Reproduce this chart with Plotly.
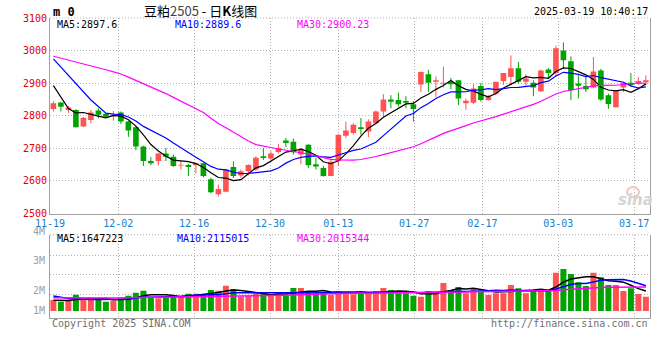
import plotly.graph_objects as go
import pandas as pd

# ---------------- data ----------------
dates = ["11-19","11-20","11-21","11-22","11-25","11-26","11-27","11-28","11-29",
         "12-02","12-03","12-04","12-05","12-06","12-09","12-10","12-11","12-12","12-13",
         "12-16","12-17","12-18","12-19","12-20","12-23","12-24","12-25","12-26","12-27",
         "12-30","12-31","01-02","01-03","01-06","01-07","01-08","01-09","01-10",
         "01-13","01-14","01-15","01-16","01-17","01-20","01-21","01-22","01-23","01-24",
         "01-27","02-05","02-06","02-07","02-10","02-11","02-12","02-13","02-14",
         "02-17","02-18","02-19","02-20","02-21","02-24","02-25","02-26","02-27","02-28",
         "03-03","03-04","03-05","03-06","03-07","03-10","03-11","03-12","03-13","03-14",
         "03-17","03-18","03-19"]

opens = [2821,2841,2818,2818,2767,2787,2816,2806,2798,2810,
         2782,2765,2706,2661,2661,2684,2674,2647,2649,2649,
         2654,2605,2559,2567,2643,2617,2630,2635,2676,2669,
         2689,2724,2720,2681,2711,2651,2640,2615,2661,2739,
         2747,2765,2752,2777,2813,2850,2848,2845,2835,2896,
         2927,2904,2898,2904,2909,2838,2840,2891,2848,2868,
         2907,2919,2946,2904,2901,2875,2942,2931,3000,2967,
         2899,2891,2887,2939,2863,2826,2887,2901,2899,2903]
highs = [2845,2843,2830,2820,2796,2818,2823,2808,2815,2813,
         2784,2767,2708,2673,2686,2701,2681,2661,2652,2656,
         2656,2610,2589,2637,2660,2635,2651,2676,2701,2691,
         2713,2732,2730,2701,2713,2671,2646,2664,2744,2782,
         2777,2793,2789,2816,2866,2863,2871,2860,2845,2936,
         2941,2921,2951,2916,2909,2853,2897,2901,2863,2904,
         2931,2985,2965,2927,2909,2941,2947,3015,3025,2982,
         2924,2919,2980,2944,2868,2879,2904,2931,2919,2924]
lows = [2813,2813,2808,2764,2765,2777,2792,2795,2785,2775,
        2735,2694,2646,2648,2648,2661,2643,2635,2615,2623,
        2611,2562,2552,2565,2609,2610,2617,2630,2664,2666,
        2684,2704,2681,2651,2640,2635,2613,2615,2646,2732,
        2742,2742,2734,2777,2797,2823,2828,2823,2782,2873,
        2873,2858,2887,2881,2833,2818,2836,2843,2846,2863,
        2894,2894,2899,2889,2860,2873,2914,2921,2944,2848,
        2853,2873,2884,2846,2821,2825,2873,2889,2894,2894]
closes = [2838,2828,2825,2765,2794,2810,2803,2797,2801,2782,
          2755,2706,2661,2654,2684,2674,2646,2649,2643,2654,
          2615,2565,2575,2635,2615,2630,2649,2671,2670,2684,
          2701,2716,2688,2698,2648,2644,2615,2659,2742,2755,
          2772,2759,2782,2813,2850,2843,2835,2840,2821,2934,
          2901,2909,2900,2897,2853,2846,2884,2848,2858,2904,
          2931,2946,2904,2914,2887,2939,2931,3007,2970,2878,
          2892,2881,2936,2850,2836,2878,2901,2894,2907,2909]
volumes = [920000,780000,920000,1360000,1000000,1110000,970000,780000,860000,1030000,
           1280000,1530000,1690000,1190000,1060000,1250000,1250000,1140000,1440000,1440000,
           1360000,1750000,1690000,2110000,1830000,1190000,1250000,1470000,1580000,1280000,
           1500000,1250000,1920000,1920000,1670000,1470000,1560000,1330000,1670000,1610000,
           1390000,1470000,1500000,1670000,1920000,1750000,1470000,1470000,1280000,1190000,
           1670000,1580000,2330000,1750000,2000000,1470000,1920000,1690000,1330000,1470000,
           1470000,2170000,1890000,1470000,1750000,1830000,1750000,3190000,3500000,3080000,
           2390000,2080000,3190000,2810000,2170000,2170000,1670000,1890000,1420000,1190000]

# closes / volumes of the 29 sessions before the visible window (estimated from the MA lines)
prior_closes = [2996,2993,2936,2963,2978,3001,2996,2998,2981,3044,
                2996,2951,2946,2974,3024,2996,2998,2994,3000,2966,
                3080,3077,3020,3047,3062,3005,3000,2832,2787]
prior_volumes = [1100000,950000,1200000,1000000,900000,1150000,1050000,980000,1100000,1000000,
                 920000,1080000,1120000,960000,1050000,1000000,1100000,950000,1070000,1040000,
                 1900000,1800000,1700000,1400000,1250000,950000,850000,900000,830000]

tick_labels = ["11-19","12-02","12-16","12-30","01-13","01-27","02-17","03-03","03-17"]
price_ticks = [2500, 2600, 2700, 2800, 2900, 3000, 3100]
vol_tick_labels = ["4M", "3M", "2M", "1M"]
price_ma_text = ["MA5:2897.6", "MA10:2889.6", "MA30:2900.23"]
vol_ma_text = ["MA5:1647223", "MA10:2115015", "MA30:2015344"]
title_text = "豆粕<span style='color:#444'>2505</span> - 日<b>K</b>线图"
symbol_text = "m 0"
time_text = "2025-03-19 10:40:17"

# ---------------- styles ----------------
W, H = 660, 360
RED = "#ff5353"
GREEN = "#00a400"
MA_COLORS = ["#000000", "#0000ff", "#ff00ff"]
GRID = "#b0b0b0"
BORDER = "#a0a0a0"
MONO = "DejaVu Sans Mono"
X0, X1 = 50, 650
P_TOP, P_BOT = 18, 213.5
V_TOP, V_BOT = 234.7, 318.3
GRID_STRETCH, GRID_SHIFT = 1.0115, -0.453

def px_x(p):
    return p / W

def px_y(p):
    return 1 - p / H

n = len(dates)
xs = list(range(n))
np_ = len(prior_closes)
cser = pd.Series(prior_closes + closes, dtype=float)
vser = pd.Series(prior_volumes + volumes, dtype=float)
price_ma = [cser.rolling(w).mean().iloc[np_:].tolist() for w in (5, 10, 30)]
vol_ma = [vser.rolling(w).mean().iloc[len(prior_volumes):].tolist() for w in (5, 10, 30)]

up = [c >= o for o, c in zip(opens, closes)]

fig = go.Figure()

# wicks
for flag, col in ((True, RED), (False, GREEN)):
    wx, wy = [], []
    for i in xs:
        if up[i] == flag:
            wx += [i, i, None]
            wy += [lows[i], highs[i], None]
    fig.add_trace(go.Scatter(x=wx, y=wy, mode="lines", line=dict(color=col, width=1),
                             xaxis="x", yaxis="y", hoverinfo="skip"))

# bodies
for flag, col in ((True, RED), (False, GREEN)):
    bx = [i for i in xs if up[i] == flag]
    base = [min(opens[i], closes[i]) for i in bx]
    hgt = [max(abs(closes[i] - opens[i]), 3) for i in bx]
    fig.add_trace(go.Bar(x=bx, y=hgt, base=base, width=0.75, marker=dict(color=col, line=dict(width=0)),
                         xaxis="x", yaxis="y"))

for ma, col in zip(price_ma, MA_COLORS):
    fig.add_trace(go.Scatter(x=xs, y=ma, mode="lines", line=dict(color=col, width=1.2),
                             xaxis="x", yaxis="y"))

# volume
for flag, col in ((True, RED), (False, GREEN)):
    bx = [i for i in xs if up[i] == flag]
    fig.add_trace(go.Bar(x=bx, y=[volumes[i] for i in bx], width=0.8,
                         marker=dict(color=col, line=dict(width=0)), xaxis="x2", yaxis="y2"))
for ma, col in zip(vol_ma, MA_COLORS):
    fig.add_trace(go.Scatter(x=xs, y=ma, mode="lines", line=dict(color=col, width=1.5),
                             xaxis="x2", yaxis="y2"))

tick_idx = [dates.index(t) for t in tick_labels]
tickvals = [k * GRID_STRETCH + GRID_SHIFT for k in tick_idx]
xrange = [-0.453, (X1 - 53.4) / 7.5]

px_per_m = 12.0
v_base = 311.0
def vol_at(py):
    return (v_base - py) / px_per_m * 1e6

common_x = dict(range=xrange, tickvals=tickvals, showgrid=True, gridcolor=GRID, griddash="1px,2px",
                gridwidth=1, showline=True, linecolor=BORDER, linewidth=1, zeroline=False, ticks="",
                domain=[px_x(X0), px_x(X1)], automargin=False)
fig.update_layout(
    width=W, height=H, margin=dict(l=0, r=0, t=0, b=0, pad=0), autosize=False,
    paper_bgcolor="white", plot_bgcolor="white", showlegend=False, barmode="overlay",
    hovermode=False,
    xaxis=dict(**common_x, anchor="y", ticktext=tick_labels,
               tickfont=dict(family=MONO, size=10, color="#1a80cc")),
    xaxis2=dict(**common_x, anchor="y2", matches="x", showticklabels=False),
    yaxis=dict(domain=[px_y(P_BOT), px_y(P_TOP)], range=[2500, 3100], tickvals=price_ticks,
               showgrid=True, gridcolor=GRID, griddash="1px,2px", showline=True, mirror=True,
               linecolor=BORDER, linewidth=1, zeroline=False, ticks="", automargin=False,
               tickfont=dict(family=MONO, size=10, color="#e00000"), anchor="x"),
    yaxis2=dict(domain=[px_y(V_BOT), px_y(V_TOP)], range=[vol_at(V_BOT), vol_at(V_TOP)],
                tickvals=[vol_at(294.7), vol_at(274.7), vol_at(255.3)],
                showgrid=True, gridcolor=GRID, griddash="1px,2px", showline=True, mirror=True,
                linecolor=BORDER, linewidth=1, zeroline=False, ticks="", showticklabels=False,
                automargin=False, anchor="x2"),
)

# top dotted borders
for py in (P_TOP, V_TOP):
    fig.add_shape(type="line", xref="paper", yref="paper", x0=px_x(X0), x1=px_x(X1),
                  y0=px_y(py), y1=px_y(py), line=dict(color=GRID, width=1, dash="1px,2px"))
# watermark eye
fig.add_shape(type="circle", xref="paper", yref="paper", x0=px_x(627), x1=px_x(639),
              y0=px_y(197), y1=px_y(187), line=dict(color="#f2c4c4", width=2))

ann = []
def text(t, x, y, xa="left", size=10, color="black", family=MONO, ya="middle"):
    ann.append(dict(text=t, x=px_x(x), y=px_y(y), xref="paper", yref="paper", xanchor=xa,
                    yanchor=ya, showarrow=False, font=dict(family=family, size=size, color=color)))

text("<b>" + symbol_text + "</b>", 51, 11.5, size=12)
text(title_text, 200, 10, xa="center", size=13, family="Noto Sans CJK SC")
text(time_text, 650, 12, xa="right", size=10)
for t, xl, col in zip(price_ma_text, (55, 173, 295), MA_COLORS):
    text(t, xl, 24.5, size=10, color=col)
for t, xl, col in zip(vol_ma_text, (55, 175, 295), MA_COLORS):
    text(t, xl, 238.5, size=10, color=col)
for t, py in zip(vol_tick_labels, (231.5, 260.3, 290.3, 310.3)):
    text(t, 46.5, py, xa="right", size=10, color="#a0a0a0")
text("Copyright 2025 SINA.COM", 50, 323.5, size=10, color="#707070")
text("http://finance.sina.com.cn", 650, 323.5, xa="right", size=10, color="#707070")
text("<i><b>sina</b></i>", 635, 200, xa="center", size=15, color="#d4d4d4", family="DejaVu Sans")
fig.update_layout(annotations=ann)

# remove the default 8px page margin so the figure sits at the window's top-left corner
fig.write_html("out.html", config={"displayModeBar": False, "staticPlot": True},
               post_script="document.body.style.margin='0px';")
